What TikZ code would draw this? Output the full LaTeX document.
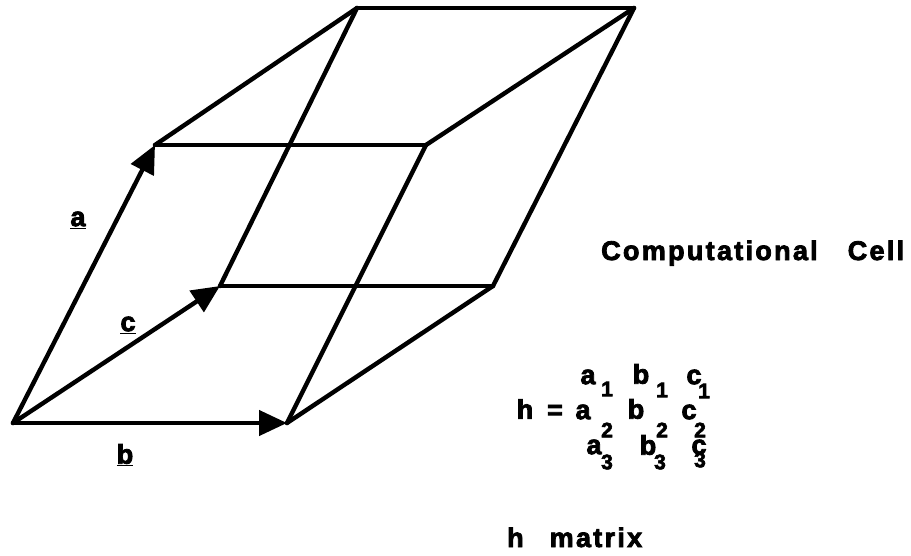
\documentclass[tikz,border=0pt]{standalone}
\usepackage{fontspec}
\setmainfont[BoldFeatures={FakeBold=3}]{Liberation Sans}
\usetikzlibrary{arrows.meta}
\newfontfamily\cellfont[LetterSpace=8.5,BoldFeatures={FakeBold=3}]{Liberation Sans}
\newcommand{\cellvec}[1]{\underline{\textbf{#1}}}
\tikzset{
  edgeline/.style={line width=4.4pt, line cap=round, line join=round},
  vecline/.style={edgeline, -{Triangle[length=28pt, width=25pt]}},
  veclabel/.style={inner sep=0pt, font=\fontsize{27}{27}\selectfont},
  entry/.style={inner sep=0pt, font=\fontsize{27}{27}\selectfont\bfseries},
  subentry/.style={inner sep=0pt, font=\fontsize{21}{21}\selectfont\bfseries},
  caption/.style={inner sep=0pt, anchor=base west, font=\fontsize{27}{27}\selectfont\bfseries\cellfont}
}
\begin{document}
\begin{tikzpicture}[x=1pt, y=-1pt]
    \useasboundingbox (0,0) rectangle (911,555);
    \coordinate (origin) at (13,423);
    \coordinate (atip) at (155,145);
    \coordinate (btip) at (287,423);
    \coordinate (ctip) at (220,286);
    \coordinate (ab) at (426,145);
    \coordinate (bc) at (493,286);
    \coordinate (ac) at (357,8);
    \coordinate (abc) at (634,8);
    % cell edges
    \draw[edgeline] (atip) -- (ab);
    \draw[edgeline] (atip) -- (ac);
    \draw[edgeline] (ctip) -- (ac);
    \draw[edgeline] (ctip) -- (bc);
    \draw[edgeline] (ac) -- (abc);
    \draw[edgeline] (ab) -- (abc);
    \draw[edgeline] (bc) -- (abc);
    \draw[edgeline] (btip) -- (ab);
    \draw[edgeline] (btip) -- (bc);
    % lattice vectors
    \draw[vecline] (origin) -- (atip);
    \draw[vecline] (origin) -- (btip);
    \draw[vecline] (origin) -- (ctip);
    \node[veclabel] (alabel) at (78,220) {\cellvec{a}};
    \node[veclabel] (blabel) at (125,455) {\cellvec{b}};
    \node[veclabel] (clabel) at (128,325) {\cellvec{c}};
    % right side text
    \node[caption] (title) at (601,260) {Computational\hspace{30pt}Cell};
    \node[entry] (a1) at (588,377) {a};
    \node[subentry] (a1s) at (607,389) {1};
    \node[entry] (b1) at (641,374) {b};
    \node[subentry] (b1s) at (662,390) {1};
    \node[entry] (c1) at (694,377) {c};
    \node[subentry] (c1s) at (704,391) {1};
    \node[entry] (hh) at (525,409) {h};
    \node[entry] (eq) at (555,412) {=};
    \node[entry] (a2) at (583,412) {a};
    \node[subentry] (a2s) at (607,430) {2};
    \node[entry] (b2) at (636,409) {b};
    \node[subentry] (b2s) at (662,430) {2};
    \node[entry] (c2) at (689,412) {c};
    \node[subentry] (c2s) at (700,430) {2};
    \node[entry] (a3) at (594,447) {a};
    \node[subentry] (a3s) at (607,462) {3};
    \node[entry] (b3) at (648,445) {b};
    \node[subentry] (b3s) at (660,462) {3};
    \node[entry] (c3) at (699,447) {c};
    \node[subentry] (c3s) at (700,460) {3};
    \node[caption] (hmatrix) at (507,547) {h\hspace{26pt}matrix};
\end{tikzpicture}
\end{document}
